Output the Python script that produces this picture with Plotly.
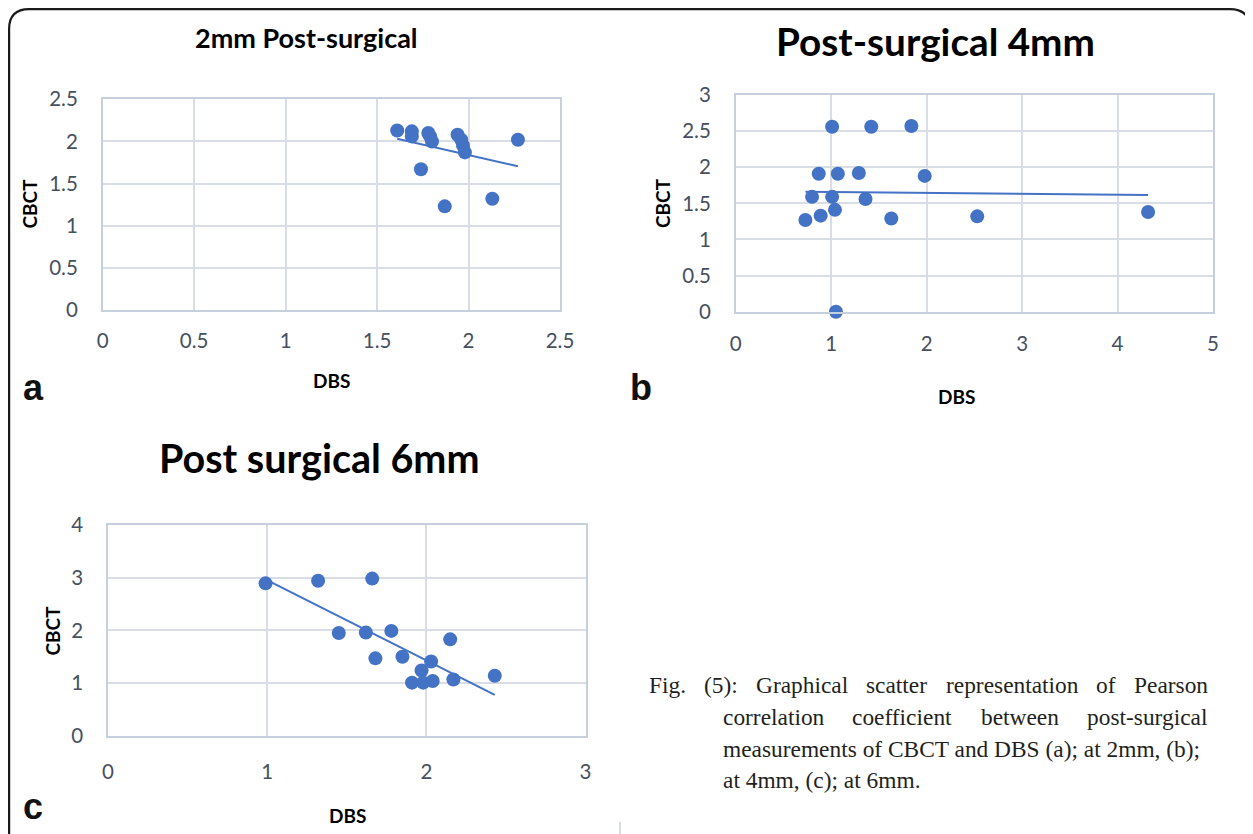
import plotly.graph_objects as go
import numpy as np

# The page body adds an 8px margin, so the figure is drawn 8px in from the
# top-left of the window; size the figure to the visible area and offset.
OFF = 8
W, H = 1253 - OFF, 834 - OFF

# ---- data ----
a_dbs = [1.61, 1.69, 1.69, 1.78, 1.79, 1.80, 1.94, 1.96, 1.97, 1.98, 2.27, 1.74, 1.87, 2.13]
a_cbct = [2.13, 2.12, 2.06, 2.10, 2.06, 2.00, 2.08, 2.02, 1.95, 1.87, 2.02, 1.67, 1.23, 1.32]

b_dbs = [1.01, 1.42, 1.84, 0.87, 1.07, 1.29, 1.98, 0.80, 1.01, 1.36, 1.04, 0.89, 0.73, 1.63, 2.53, 4.32, 1.05]
b_cbct = [2.56, 2.56, 2.57, 1.91, 1.91, 1.92, 1.88, 1.59, 1.59, 1.56, 1.41, 1.33, 1.27, 1.29, 1.32, 1.38, 0.00]

c_dbs = [0.99, 1.32, 1.66, 1.45, 1.62, 1.78, 2.15, 1.68, 1.85, 2.03, 1.97, 1.91, 1.98, 2.04, 2.17, 2.43]
c_cbct = [2.89, 2.94, 2.98, 1.95, 1.96, 1.99, 1.83, 1.47, 1.50, 1.41, 1.24, 1.01, 1.01, 1.04, 1.07, 1.14]

titles = ["2mm Post-surgical", "Post-surgical 4mm", "Post surgical 6mm"]
letters = ["a", "b", "c"]
x_ranges = [[0, 2.5], [0, 5], [0, 3]]
y_ranges = [[0, 2.5], [0, 3], [0, 4]]
x_dticks = [0.5, 1, 1]
y_dticks = [0.5, 0.5, 1]

caption_line1 = ["Fig.", "(5):", "Graphical", "scatter", "representation", "of", "Pearson"]
caption_line2 = ["correlation", "coefficient", "between", "post-surgical"]
caption_line3 = "measurements of CBCT and DBS (a); at 2mm, (b);"
caption_line4 = "at 4mm, (c); at 6mm."

BLUE = "#4472C4"
GRID = "#d9dee6"
AXLINE = "#c6cfdc"
TICK = "#46505f"


def px(x):
    return (x - OFF) / W


def py(y):
    return 1 - (y - OFF) / H


# plot areas in window pixels: (left, right, top, bottom)
areas = [(102.7, 560, 99.3, 310), (735.7, 1213, 95, 311.7), (108, 585.5, 524.7, 736)]
xstand = [12, 13, 17]

fig = go.Figure()
datasets = [(a_dbs, a_cbct), (b_dbs, b_cbct), (c_dbs, c_cbct)]
for i, (xs, ys) in enumerate(datasets):
    sfx = "" if i == 0 else str(i + 1)
    xa, ya = "x" + sfx, "y" + sfx
    fig.add_trace(go.Scatter(x=xs, y=ys, mode="markers", xaxis=xa, yaxis=ya,
                             marker=dict(color=BLUE, size=14), showlegend=False,
                             cliponaxis=False))
    k, b = np.polyfit(np.array(xs), np.array(ys), 1)
    xl = np.array([min(xs), max(xs)])
    fig.add_trace(go.Scatter(x=xl, y=k * xl + b, mode="lines", xaxis=xa, yaxis=ya,
                             line=dict(color=BLUE, width=2), showlegend=False))
    l, r, t, bt = areas[i]
    axcommon = dict(showgrid=True, gridcolor=GRID, gridwidth=1.5, showline=True,
                    linecolor=AXLINE, linewidth=1.5, mirror=True, zeroline=False,
                    automargin=False,
                    ticks="", tickfont=dict(family="Lato", size=20.5, color=TICK))
    fig.layout["xaxis" + sfx] = dict(domain=[px(l), px(r)], range=x_ranges[i], dtick=x_dticks[i],
                                     tick0=0, anchor=ya, ticklabelstandoff=xstand[i], **axcommon)
    fig.layout["yaxis" + sfx] = dict(domain=[py(bt), py(t)], range=y_ranges[i], dtick=y_dticks[i],
                                     tick0=0, anchor=xa, ticklabelstandoff=19, **axcommon)

ann = []
# titles
title_pos = [(306, 37, 27), (935.5, 40.5, 38.7), (319, 457.5, 39.5)]
for t, (x, y, s) in zip(titles, title_pos):
    ann.append(dict(text="<b>%s</b>" % t, x=px(x), y=py(y), xref="paper", yref="paper",
                    showarrow=False, xanchor="center", yanchor="middle",
                    font=dict(family="Lato", size=s, color="#000000")))
# axis titles
for (x, y) in [(331, 380), (957, 396), (347, 815)]:
    ann.append(dict(text="<b>DBS</b>", x=px(x), y=py(y), xref="paper", yref="paper",
                    showarrow=False, xanchor="center", yanchor="middle",
                    font=dict(family="Lato", size=19, color="#000000")))
for (x, y) in [(28.5, 204), (662, 203), (51.5, 631)]:
    ann.append(dict(text="<b>CBCT</b>", x=px(x), y=py(y), xref="paper", yref="paper",
                    showarrow=False, xanchor="center", yanchor="middle", textangle=-90,
                    font=dict(family="Lato", size=19, color="#000000")))
# panel letters
for t, (x, y) in zip(letters, [(21, 387.5), (628, 387.5), (21, 806.5)]):
    ann.append(dict(text="<b>%s</b>" % t, x=px(x), y=py(y), xref="paper", yref="paper",
                    showarrow=False, xanchor="left", yanchor="middle",
                    font=dict(family="Liberation Sans", size=36, color="#111111")))
# caption (justified lines are laid out word by word)
capfont = dict(family="Liberation Serif", size=23.4, color="#231f20")
for w, x in zip(caption_line1, [648, 703, 755, 865, 945, 1095, 1133]):
    ann.append(dict(text=w, x=px(x - 1), y=py(685), xref="paper", yref="paper", showarrow=False,
                    xanchor="left", yanchor="middle", font=capfont))
for w, x in zip(caption_line2, [722, 851, 980, 1086]):
    ann.append(dict(text=w, x=px(x - 1), y=py(717), xref="paper", yref="paper", showarrow=False,
                    xanchor="left", yanchor="middle", font=capfont))
for w, y in [(caption_line3, 749), (caption_line4, 780)]:
    ann.append(dict(text=w, x=px(721), y=py(y), xref="paper", yref="paper", showarrow=False,
                    xanchor="left", yanchor="middle", font=capfont))

# frame
r = 20
x0, x1, yt = 9.1, 1250, 9.1
path = ("M %f,%f L %f,%f Q %f,%f %f,%f L %f,%f Q %f,%f %f,%f L %f,%f" % (
    px(x0), py(844), px(x0), py(yt + r), px(x0), py(yt), px(x0 + r), py(yt),
    px(x1 - r), py(yt), px(x1), py(yt), px(x1), py(yt + r), px(x1), py(844)))
shapes = [dict(type="path", path=path, xref="paper", yref="paper",
               line=dict(color="#1a1a1a", width=2.2)),
          dict(type="line", x0=px(620), x1=px(620), y0=py(822), y1=py(836), xref="paper", yref="paper",
               line=dict(color="#c8d0dc", width=1.5))]

fig.update_layout(width=W, height=H, margin=dict(l=0, r=0, t=0, b=0, pad=0, autoexpand=False),
                  paper_bgcolor="white", plot_bgcolor="white",
                  annotations=ann, shapes=shapes, showlegend=False)

fig.write_html("out.html")
